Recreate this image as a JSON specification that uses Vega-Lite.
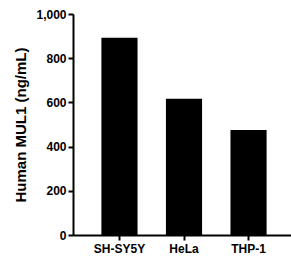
{
  "$schema": "https://vega.github.io/schema/vega-lite/v6.json",
  "autosize": "none",
  "padding": {"left": 73, "top": 14, "right": 0, "bottom": 29},
  "width": 222,
  "height": 221,
  "background": "white",
  "config": {"view": {"stroke": null}, "font": "Liberation Sans"},
  "data": {"values": [
    {"cell": "SH-SY5Y", "value": 893},
    {"cell": "HeLa", "value": 617},
    {"cell": "THP-1", "value": 475}
  ]},
  "mark": {"type": "bar", "color": "black"},
  "encoding": {
    "x": {
      "field": "cell", "type": "nominal", "sort": null,
      "scale": {"paddingInner": 0.44, "paddingOuter": 0.44},
      "axis": {
        "title": null, "labelAngle": 0, "labelFont": "Liberation Sans", "labelFontWeight": "bold",
        "labelFontSize": 12, "labelColor": "black", "domainColor": "black", "domainWidth": 2,
        "tickColor": "black", "tickWidth": 2, "tickSize": 5, "labelPadding": 3
      }
    },
    "y": {
      "field": "value", "type": "quantitative",
      "scale": {"domain": [0, 1000], "nice": false},
      "axis": {
        "title": "Human MUL1 (ng/mL)", "titleFont": "Liberation Sans", "titleFontSize": 15,
        "titleFontWeight": "bold", "titleColor": "black", "titlePadding": 7,
        "values": [0, 200, 400, 600, 800, 1000], "format": ",.0f", "grid": false,
        "labelFont": "Liberation Sans", "labelFontWeight": "bold", "labelFontSize": 12,
        "labelColor": "black", "domainColor": "black", "domainWidth": 2,
        "tickColor": "black", "tickWidth": 2, "tickSize": 5, "labelPadding": 2
      }
    }
  }
}
